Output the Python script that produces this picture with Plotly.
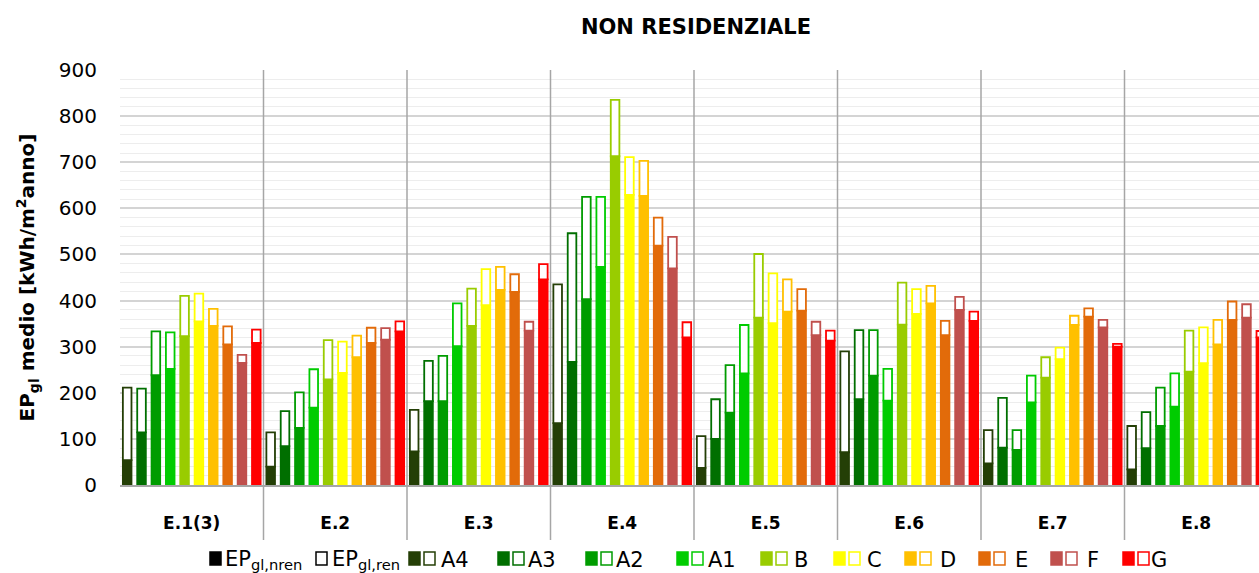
import plotly.graph_objects as go

# ---------------- data ----------------
categories = ["E.1(3)", "E.2", "E.3", "E.4", "E.5", "E.6", "E.7", "E.8"]
classes = ["A4", "A3", "A2", "A1", "B", "C", "D", "E", "F", "G"]

# total EP_gl (nren + ren) per class, per category
tot_A4 = [211, 114, 163, 435, 106, 290, 119, 128]
tot_A3 = [209, 160, 269, 546, 186, 336, 189, 158]
tot_A2 = [333, 201, 280, 625, 260, 336, 119, 211]
tot_A1 = [331, 251, 394, 625, 347, 252, 237, 242]
tot_B = [410, 314, 426, 835, 501, 439, 277, 335]
tot_C = [415, 311, 468, 711, 459, 425, 298, 342]
tot_D = [382, 324, 473, 703, 446, 432, 367, 358]
tot_E = [344, 341, 457, 580, 425, 356, 383, 398]
tot_F = [282, 340, 354, 538, 354, 408, 358, 392]
tot_G = [337, 355, 479, 353, 335, 376, 306, 334]

# EP_gl,nren per class, per category
nren_A4 = [54, 40, 73, 134, 37, 71, 47, 34]
nren_A3 = [114, 84, 182, 267, 100, 186, 81, 80]
nren_A2 = [238, 124, 182, 403, 157, 237, 76, 128]
nren_A1 = [252, 168, 301, 473, 242, 183, 179, 170]
nren_B = [323, 229, 345, 713, 363, 348, 233, 246]
nren_C = [355, 243, 390, 629, 351, 371, 273, 264]
nren_D = [345, 277, 423, 627, 376, 394, 347, 305]
nren_E = [305, 308, 419, 519, 378, 325, 365, 358]
nren_F = [265, 315, 335, 470, 325, 380, 342, 363]
nren_G = [308, 333, 446, 320, 313, 356, 300, 320]

y_ticks = [0, 100, 200, 300, 400, 500, 600, 700, 800, 900]

# ---------------- styles ----------------
colors = {
    "A4": "#243f06", "A3": "#006f00", "A2": "#009c00", "A1": "#00cc00",
    "B": "#99cc00", "C": "#ffff00", "D": "#ffc000", "E": "#e26b0a",
    "F": "#c0504d", "G": "#ff0000",
}
totals = dict(zip(classes, [tot_A4, tot_A3, tot_A2, tot_A1, tot_B, tot_C, tot_D, tot_E, tot_F, tot_G]))
nrens = dict(zip(classes, [nren_A4, nren_A3, nren_A2, nren_A1, nren_B, nren_C, nren_D, nren_E, nren_F, nren_G]))

FONT = "DejaVu Sans"
fig = go.Figure()

for c in classes:
    ren = [t - n for t, n in zip(totals[c], nrens[c])]
    fig.add_trace(go.Bar(
        x=categories, y=nrens[c], name=c + " nren", offsetgroup=c,
        marker=dict(color=colors[c], line=dict(color=colors[c], width=1.8)),
        showlegend=False,
    ))
    fig.add_trace(go.Bar(
        x=categories, y=ren, base=nrens[c], name=c + " ren", offsetgroup=c,
        marker=dict(color="white", line=dict(color=colors[c], width=1.8)),
        showlegend=False,
    ))

# plot area geometry (pixels)
W, H = 1259, 573
L, T, B = 120, 70, 88
PW, PH = W - L, H - T - B
cat_px = 143.5
x_max = -0.5 + PW / cat_px

def px2x(px):
    return (px - L) / PW

def py2y(py):
    return (H - B - py) / PH

shapes = []
# category separators
for i in range(len(categories) - 1):
    shapes.append(dict(type="line", xref="x", yref="paper", x0=i + 0.5, x1=i + 0.5,
                       y0=py2y(540), y1=1, line=dict(color="#a6a6a6", width=1.5)))

annotations = []
# manual legend
leg_y0, leg_y1 = py2y(565), py2y(552)
leg_text_y = py2y(560)

def square(x_px, fill, edge):
    shapes.append(dict(type="rect", xref="paper", yref="paper",
                       x0=px2x(x_px + 1), x1=px2x(x_px + 12), y0=leg_y0, y1=leg_y1,
                       fillcolor=fill, line=dict(color=edge, width=1.5), layer="above"))

def label(x_px, text):
    annotations.append(dict(xref="paper", yref="paper", x=px2x(x_px), y=leg_text_y,
                            xanchor="left", yanchor="middle", text=text, showarrow=False,
                            font=dict(family=FONT, size=21, color="black")))

square(209, "black", "black")
label(223, "EP<sub>gl,nren</sub>")
square(315, "white", "black")
label(330, "EP<sub>gl,ren</sub>")

leg_solid_px = [408, 497, 585, 676, 760, 833, 904, 978, 1050, 1122]
leg_gap_px = 15
leg_text_px = [439, 526, 614, 706, 792, 865, 938, 1013, 1085, 1149]
for c, sx, tx in zip(classes, leg_solid_px, leg_text_px):
    square(sx, colors[c], colors[c])
    square(sx + leg_gap_px, "white", colors[c])
    label(tx, c)

fig.update_layout(
    width=W, height=H,
    margin=dict(l=L, r=0, t=T, b=B, pad=0),
    paper_bgcolor="white", plot_bgcolor="white",
    barmode="group", bargap=0, bargroupgap=0.4,
    font=dict(family=FONT, color="black"),
    title=dict(text="NON RESIDENZIALE", x=px2x(696), xref="paper", xanchor="center",
               y=1 - 27 / H, yanchor="middle",
               font=dict(family=FONT, size=21, color="black", weight="bold")),
    shapes=shapes, annotations=annotations,
    showlegend=False,
)
fig.update_xaxes(
    type="category", range=[-0.5, x_max], showgrid=False, showline=True,
    linecolor="#a6a6a6", linewidth=1.5,
    ticks="outside", ticklen=22, tickcolor="rgba(0,0,0,0)",
    tickfont=dict(family=FONT, size=17, color="black", weight="bold"),
)
fig.update_yaxes(
    range=[0, 900], tickvals=y_ticks, showgrid=True, gridcolor="#d4d4d4", gridwidth=1.5,
    minor=dict(dtick=20, showgrid=True, gridcolor="#ededed", gridwidth=1),
    zeroline=False, showline=False,
    ticks="outside", ticklen=18, tickcolor="rgba(0,0,0,0)",
    tickfont=dict(family=FONT, size=20, color="black"),
    title=dict(text="<b>EP<sub>gl</sub> medio [kWh/m<sup>2</sup>anno]</b>", standoff=18,
               font=dict(family=FONT, size=20, color="black")),
)

fig.write_html("out.html", config={"displayModeBar": False},
               post_script="document.body.style.margin='0';")
